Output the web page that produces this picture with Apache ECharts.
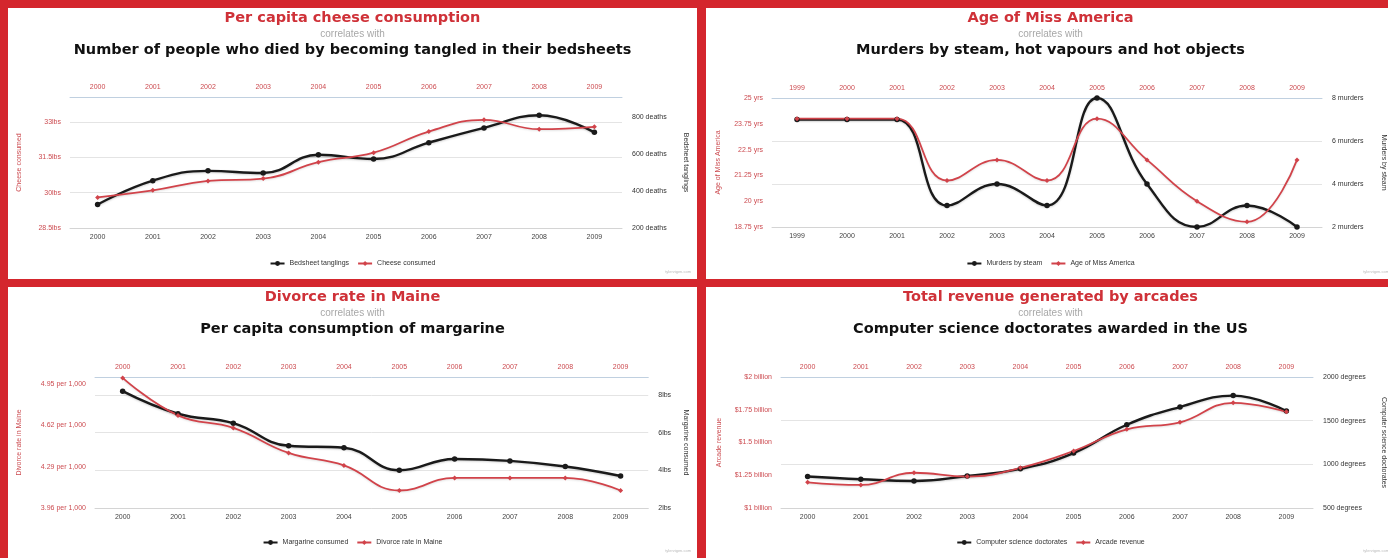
<!DOCTYPE html>
<html>
<head>
<meta charset="utf-8">
<script src="https://cdn.jsdelivr.net/npm/echarts@6/dist/echarts.min.js"></script>
<style>
  html, body { margin:0; padding:0; width:1388px; height:558px; overflow:hidden; background:#d4262d; }
  .panel { position:absolute; width:689px; height:271px; background:#fff; }
</style>
</head>
<body>
<div id="p1" class="panel" style="left:8px;top:8px"></div>
<div id="p2" class="panel" style="left:706px;top:8px"></div>
<div id="p3" class="panel" style="left:8px;top:287px"></div>
<div id="p4" class="panel" style="left:706px;top:287px"></div>
<script>
// ---------- data ----------
const years2000s = ['2000','2001','2002','2003','2004','2005','2006','2007','2008','2009'];
const years1999s = ['1999','2000','2001','2002','2003','2004','2005','2006','2007','2008','2009'];

const cheeseConsumed = [29.8, 30.1, 30.5, 30.6, 31.3, 31.7, 32.6, 33.1, 32.7, 32.8];
const bedsheetTanglings = [327, 456, 509, 497, 596, 573, 661, 741, 809, 717];

const missAmericaAge = [24, 24, 24, 21, 22, 21, 24, 22, 20, 19, 22];
const steamMurders = [7, 7, 7, 3, 4, 3, 8, 4, 2, 3, 2];

const maineDivorceRate = [5.0, 4.7, 4.6, 4.4, 4.3, 4.1, 4.2, 4.2, 4.2, 4.1];
const margarineConsumed = [8.2, 7.0, 6.5, 5.3, 5.2, 4.0, 4.6, 4.5, 4.2, 3.7];

const arcadeRevenue = [1.196, 1.176, 1.269, 1.240, 1.307, 1.435, 1.601, 1.654, 1.803, 1.734];
const csDoctorates = [861, 830, 809, 867, 948, 1129, 1453, 1656, 1787, 1611];

// tick label formats
const cheeseTick = v => v + 'lbs';
const deathsTick = v => v + ' deaths';
const ageTick = v => v + ' yrs';
const murdersTick = v => v + ' murders';
const divorceTick = v => v.toFixed(2) + ' per 1,000';
const margarineTick = v => v + 'lbs';
const revenueTick = v => '$' + v + ' billion';
const degreesTick = v => v + ' degrees';

// ---------- styling ----------
const FONT = 'Liberation Sans, Arial, sans-serif';
const TITLE_FONT = 'DejaVu Sans, Liberation Sans, sans-serif';
const RED_TITLE = '#cf3138';
const RED_LINE = '#d1434a';
const RED_LABEL = '#cc4b50';
const BLACK = '#1a1a1a';

function makeOption(c) {
  return {
    animation: false,
    backgroundColor: '#ffffff',
    textStyle: { fontFamily: FONT },
    title: [
      { text: c.redTitle, left: 'center', top: 3, padding: 0,
        textStyle: { color: RED_TITLE, fontSize: 14.5, fontWeight: 'bold', fontFamily: TITLE_FONT } },
      { text: 'correlates with', left: 'center', top: 21, padding: 0,
        textStyle: { color: '#a8a8a8', fontSize: 10, fontWeight: 'normal', fontFamily: FONT } },
      { text: c.blackTitle, left: 'center', top: 35, padding: 0,
        textStyle: { color: '#111111', fontSize: 14.5, fontWeight: 'bold', fontFamily: TITLE_FONT } }
    ],
    grid: { left: c.grid[0], right: c.grid[1], top: c.grid[2], bottom: c.grid[3] },
    legend: {
      top: 247, left: 'center', itemWidth: 14, itemHeight: 6, itemGap: 8,
      textStyle: { fontSize: 7, color: '#333', fontFamily: FONT },
      data: [c.blackName, c.redName]
    },
    xAxis: [
      { type: 'category', data: c.cats, position: 'bottom',
        axisLine: { lineStyle: { color: '#d4d4d4' } },
        axisTick: { length: 4, lineStyle: { color: '#d4d4d4' } },
        axisLabel: { fontSize: 7, color: '#444', margin: 6, interval: 0 } },
      { type: 'category', data: c.cats, position: 'top',
        axisLine: { lineStyle: { color: '#c0d0e0' } },
        axisTick: { length: 4, lineStyle: { color: '#c0d0e0' } },
        axisLabel: { fontSize: 7, color: RED_LABEL, margin: 6, interval: 0 } }
    ],
    yAxis: [
      { type: 'value', position: 'left', min: c.left.min, max: c.left.max, interval: c.left.interval,
        axisLine: { show: false }, axisTick: { show: false },
        axisLabel: { formatter: c.left.fmt, fontSize: 7, color: RED_LABEL, margin: 9, showMaxLabel: c.left.showMax },
        splitLine: { show: c.gridOnLeft, lineStyle: { color: '#e4e4e4' } },
        name: c.left.name, nameLocation: 'middle', nameGap: c.left.gap, nameRotate: 90,
        nameTextStyle: { fontSize: 7, color: RED_LABEL, fontFamily: FONT } },
      { type: 'value', position: 'right', min: c.right.min, max: c.right.max, interval: c.right.interval,
        axisLine: { show: false }, axisTick: { show: false },
        axisLabel: { formatter: c.right.fmt, fontSize: 7, color: '#333', margin: 10, showMaxLabel: c.right.showMax },
        splitLine: { show: !c.gridOnLeft, lineStyle: { color: '#e4e4e4' } },
        name: c.right.name, nameLocation: 'middle', nameGap: c.right.gap, nameRotate: -90,
        nameTextStyle: { fontSize: 7, color: '#333', fontFamily: FONT } }
    ],
    series: [
      { name: c.blackName, type: 'line', xAxisIndex: 0, yAxisIndex: 1, data: c.blackData,
        smooth: 0.45, symbol: 'circle', symbolSize: 5.5,
        lineStyle: { width: 2.4, color: BLACK, shadowColor: 'rgba(0,0,0,0.18)', shadowBlur: 2, shadowOffsetY: 1 },
        itemStyle: { color: BLACK } },
      { name: c.redName, type: 'line', xAxisIndex: 0, yAxisIndex: 0, data: c.redData,
        smooth: 0.45, symbol: 'diamond', symbolSize: 5,
        lineStyle: { width: 1.8, color: RED_LINE, shadowColor: 'rgba(0,0,0,0.12)', shadowBlur: 2, shadowOffsetY: 1 },
        itemStyle: { color: RED_LINE } }
    ],
    graphic: [
      { type: 'text', right: 6, bottom: 5, style: { text: 'tylervigen.com', fontSize: 4, fill: '#bbbbbb', fontFamily: FONT } }
    ]
  };
}

const panels = [
  { id: 'p1', redTitle: 'Per capita cheese consumption',
    blackTitle: 'Number of people who died by becoming tangled in their bedsheets',
    cats: years2000s, grid: [59, 72, 89, 51], gridOnLeft: true,
    blackName: 'Bedsheet tanglings', blackData: bedsheetTanglings,
    redName: 'Cheese consumed', redData: cheeseConsumed,
    left: { min: 28.5, max: 34.07, interval: 1.5, fmt: cheeseTick, showMax: false, name: 'Cheese consumed', gap: 47 },
    right: { min: 200, max: 908, interval: 200, fmt: deathsTick, showMax: false, name: 'Bedsheet tanglings', gap: 60 } },
  { id: 'p2', redTitle: 'Age of Miss America',
    blackTitle: 'Murders by steam, hot vapours and hot objects',
    cats: years1999s, grid: [66, 68, 90, 52], gridOnLeft: false,
    blackName: 'Murders by steam', blackData: steamMurders,
    redName: 'Age of Miss America', redData: missAmericaAge,
    left: { min: 18.75, max: 25, interval: 1.25, fmt: ageTick, showMax: true, name: 'Age of Miss America', gap: 50 },
    right: { min: 2, max: 8, interval: 2, fmt: murdersTick, showMax: true, name: 'Murders by steam', gap: 58 } },
  { id: 'p3', redTitle: 'Divorce rate in Maine',
    blackTitle: 'Per capita consumption of margarine',
    cats: years2000s, grid: [83, 47, 90, 50], gridOnLeft: false,
    blackName: 'Margarine consumed', blackData: margarineConsumed,
    redName: 'Divorce rate in Maine', redData: maineDivorceRate,
    left: { min: 3.96, max: 5.007, interval: 0.33, fmt: divorceTick, showMax: false, name: 'Divorce rate in Maine', gap: 72 },
    right: { min: 2, max: 8.95, interval: 2, fmt: margarineTick, showMax: false, name: 'Margarine consumed', gap: 33 } },
  { id: 'p4', redTitle: 'Total revenue generated by arcades',
    blackTitle: 'Computer science doctorates awarded in the US',
    cats: years2000s, grid: [75, 77, 90, 50], gridOnLeft: false,
    blackName: 'Computer science doctorates', blackData: csDoctorates,
    redName: 'Arcade revenue', redData: arcadeRevenue,
    left: { min: 1, max: 2, interval: 0.25, fmt: revenueTick, showMax: true, name: 'Arcade revenue', gap: 58 },
    right: { min: 500, max: 2000, interval: 500, fmt: degreesTick, showMax: true, name: 'Computer science doctorates', gap: 67 } }
];

panels.forEach(p => {
  const chart = echarts.init(document.getElementById(p.id), null, { renderer: 'canvas' });
  chart.setOption(makeOption(p));
});
</script>
</body>
</html>
